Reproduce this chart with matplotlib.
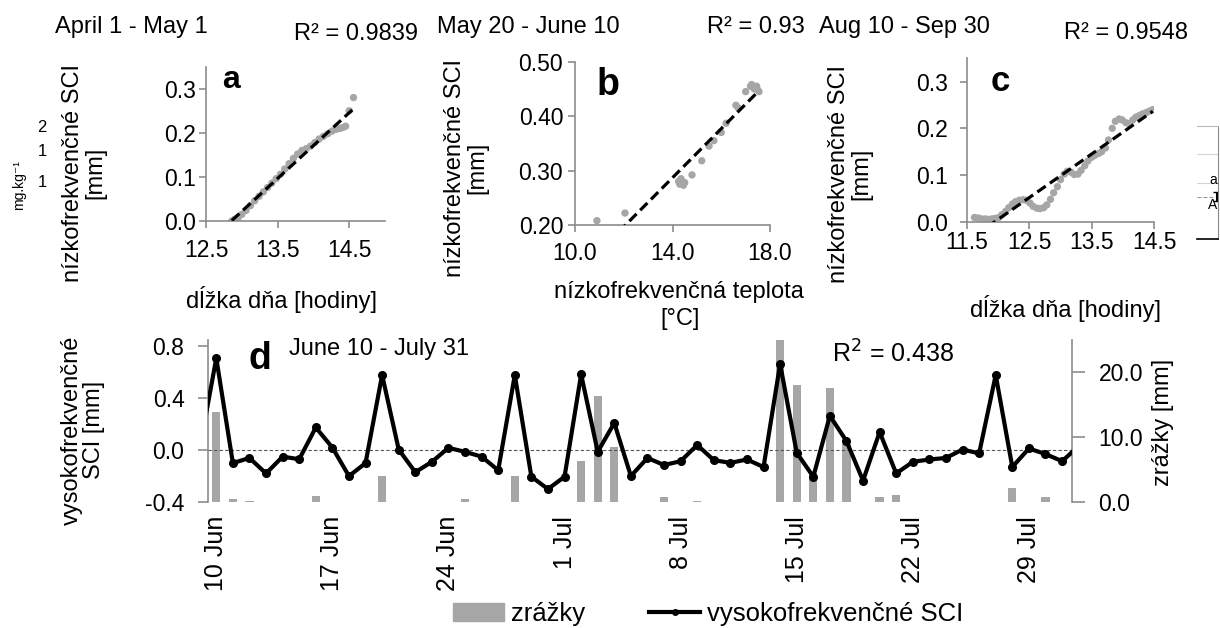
import matplotlib
matplotlib.use('Agg')  # no display

import numpy as np
import matplotlib.pyplot as plt
from matplotlib.lines import Line2D
from matplotlib.patches import Patch

plt.rcParams['font.family'] = ['Liberation Sans', 'DejaVu Sans']

# --- panel a: day length vs low-frequency SCI (April 1 - May 1)
day_len_a = [12.86, 12.90, 12.95, 13.00, 13.06, 13.12, 13.18, 13.24, 13.30, 13.36,
             13.42, 13.48, 13.54, 13.60, 13.66, 13.72, 13.78, 13.84, 13.90, 13.96,
             14.02, 14.08, 14.14, 14.20, 14.26, 14.32, 14.37, 14.41, 14.45, 14.50, 14.56]
sci_a = [0.000, 0.004, 0.008, 0.015, 0.024, 0.035, 0.046, 0.056, 0.066, 0.076,
         0.086, 0.096, 0.106, 0.118, 0.130, 0.142, 0.152, 0.160, 0.164, 0.170,
         0.178, 0.186, 0.192, 0.198, 0.204, 0.208, 0.210, 0.212, 0.215, 0.250, 0.280]

# --- panel b: low-frequency temperature vs SCI (May 20 - June 10)
temp_b = [10.9, 12.05, 14.25, 14.3, 14.35, 14.45, 14.5, 14.8, 15.2, 15.5, 15.7,
          16.0, 16.2, 16.6, 16.7, 17.0, 17.2, 17.25, 17.35, 17.45, 17.5, 17.55]
sci_b = [0.208, 0.222, 0.280, 0.275, 0.285, 0.273, 0.278, 0.292, 0.318, 0.345, 0.355,
         0.370, 0.387, 0.420, 0.415, 0.445, 0.455, 0.458, 0.450, 0.455, 0.448, 0.445]

# --- panel c: day length vs SCI (Aug 10 - Sep 30)
day_len_c = [11.62, 11.68, 11.73, 11.79, 11.84, 11.90, 11.95, 12.01, 12.06, 12.12,
             12.17, 12.23, 12.28, 12.34, 12.40, 12.45, 12.51, 12.56, 12.62, 12.67,
             12.73, 12.78, 12.84, 12.89, 12.95, 13.00, 13.06, 13.11, 13.17, 13.22,
             13.28, 13.33, 13.39, 13.44, 13.50, 13.55, 13.61, 13.66, 13.72, 13.77,
             13.83, 13.88, 13.94, 13.99, 14.05, 14.10, 14.16, 14.21, 14.27, 14.32,
             14.38, 14.43, 14.48]
sci_c = [0.009, 0.008, 0.006, 0.006, 0.005, 0.006, 0.007, 0.009, 0.015, 0.022,
         0.030, 0.038, 0.043, 0.046, 0.047, 0.046, 0.040, 0.033, 0.029, 0.028,
         0.030, 0.036, 0.048, 0.062, 0.075, 0.090, 0.102, 0.108, 0.106, 0.101,
         0.102, 0.110, 0.120, 0.130, 0.138, 0.142, 0.146, 0.150, 0.158, 0.175,
         0.200, 0.215, 0.220, 0.218, 0.212, 0.210, 0.218, 0.224, 0.228, 0.231,
         0.234, 0.237, 0.240]

# --- panel d: daily series, Jun 9 .. Aug 1 (day 0 = 10 Jun)
days_d = np.arange(-1, 53)
sci_d = [0.01,
         0.71, -0.10, -0.06, -0.18, -0.05, -0.07, 0.175, 0.02, -0.20, -0.10,
         0.58, 0.005, -0.17, -0.09, 0.018, -0.013, -0.05, -0.155, 0.58, -0.205,
         -0.30, -0.205, 0.585, -0.013, 0.21, -0.20, -0.06, -0.115, -0.085, 0.04,
         -0.077, -0.098, -0.072, -0.13, 0.665, -0.02, -0.205, 0.265, 0.07, -0.235,
         0.14, -0.18, -0.09, -0.072, -0.06, 0.005, -0.025, 0.58, -0.13, 0.013,
         -0.03, -0.085, 0.03]
rain_d = [0.0,
          13.9, 0.4, 0.15, 0.0, 0.0, 0.0, 0.9, 0.0, 0.0, 0.0,
          4.0, 0.0, 0.0, 0.0, 0.0, 0.4, 0.0, 0.0, 4.0, 0.0,
          0.0, 0.0, 6.3, 16.3, 8.5, 0.0, 0.0, 0.8, 0.0, 0.15,
          0.0, 0.0, 0.0, 0.0, 25.0, 18.1, 4.5, 17.6, 9.0, 0.0,
          0.7, 1.1, 0.0, 0.0, 0.0, 0.0, 0.0, 0.0, 2.1, 0.0,
          0.7, 0.0, 0.0]
tick_days = [0, 7, 14, 21, 28, 35, 42, 49]
tick_labels = ['10 Jun', '17 Jun', '24 Jun', '1 Jul', '8 Jul', '15 Jul', '22 Jul', '29 Jul']

W, H = 1220, 628
GRAY_AX = '#8c8c8c'
GRAY_PT = '#a6a6a6'
FS = 17


def box(l, t, r, b):
    return [l / W, 1 - b / H, (r - l) / W, (b - t) / H]


def ftext(x, y, s, **kw):
    kw.setdefault('fontsize', FS)
    return fig.text(x / W, 1 - y / H, s, **kw)


def style(ax, xpad, ypad):
    for s in ['top', 'right']:
        ax.spines[s].set_visible(False)
    for s in ['left', 'bottom']:
        ax.spines[s].set_color(GRAY_AX)
        ax.spines[s].set_linewidth(1.2)
    ax.tick_params(color=GRAY_AX, labelsize=16.5, length=5, width=1.2)
    ax.tick_params(axis='x', pad=xpad)
    ax.tick_params(axis='y', pad=ypad)


def scatter_fit(ax, x, y):
    x = np.asarray(x)
    y = np.asarray(y)
    ax.scatter(x, y, s=28, color=GRAY_PT, edgecolors='none', zorder=2)
    p = np.polyfit(x, y, 1)
    xs = np.array([x.min(), x.max()])
    ax.plot(xs, np.polyval(p, xs), color='black', lw=2.3, dashes=(3.2, 1.6), zorder=3)


fig = plt.figure(figsize=(12.2, 6.28), dpi=100)

# panel a
ax_a = fig.add_axes(box(206, 66.7, 385, 221))
scatter_fit(ax_a, day_len_a, sci_a)
ax_a.set_xlim(12.5, 15.0)
ax_a.set_ylim(0, 0.35)
ax_a.set_xticks([12.5, 13.5, 14.5])
ax_a.set_yticks([0.0, 0.1, 0.2, 0.3])
ax_a.set_yticklabels(['0.0', '0.1', '0.2', '0.3'])
style(ax_a, 8, 2.5)

# panel b
ax_b = fig.add_axes(box(575, 61.7, 770, 225))
scatter_fit(ax_b, temp_b, sci_b)
ax_b.set_xlim(10, 18)
ax_b.set_ylim(0.2, 0.5)
ax_b.set_xticks([10, 14, 18])
ax_b.set_xticklabels(['10.0', '14.0', '18.0'])
ax_b.set_yticks([0.2, 0.3, 0.4, 0.5])
ax_b.set_yticklabels(['0.20', '0.30', '0.40', '0.50'])
style(ax_b, 7, 3.5)

# panel c
ax_c = fig.add_axes(box(967, 58.3, 1154, 221.7))
scatter_fit(ax_c, day_len_c, sci_c)
ax_c.set_xlim(11.5, 14.5)
ax_c.set_ylim(0, 0.35)
ax_c.set_xticks([11.5, 12.5, 13.5, 14.5])
ax_c.set_yticks([0.0, 0.1, 0.2, 0.3])
ax_c.set_yticklabels(['0.0', '0.1', '0.2', '0.3'])
style(ax_c, 1.5, 9)

# panel d
ax_d = fig.add_axes(box(208, 340, 1072, 502))
ax_r = ax_d.twinx()
ax_r.bar(days_d, rain_d, width=0.5, color=GRAY_PT, zorder=1)
ax_r.set_ylim(0, 25)
ax_r.set_yticks([0, 10, 20])
ax_r.set_yticklabels(['0.0', '10.0', '20.0'])
ax_d.set_zorder(ax_r.get_zorder() + 1)
ax_d.patch.set_visible(False)
ax_d.axhline(0, color='#555555', lw=0.8, ls=(0, (3, 2)), zorder=1)
ax_d.plot(days_d, sci_d, color='black', lw=3, marker='o', markersize=5.5, zorder=3)
ax_d.set_xlim(-0.5, 51.6)
ax_d.set_ylim(-0.4, 0.85)
ax_d.set_yticks([-0.4, 0.0, 0.4, 0.8])
ax_d.set_yticklabels(['-0.4', '0.0', '0.4', '0.8'])
ax_d.set_xticks(tick_days)
ax_d.set_xticklabels(tick_labels, rotation=90)
for a in (ax_d, ax_r):
    for s in a.spines.values():
        s.set_visible(False)
ax_d.spines['left'].set_visible(True)
ax_d.spines['left'].set_color(GRAY_AX)
ax_d.spines['left'].set_linewidth(1.2)
ax_r.spines['right'].set_visible(True)
ax_r.spines['right'].set_color(GRAY_AX)
ax_r.spines['right'].set_linewidth(1.2)
ax_d.tick_params(axis='y', color=GRAY_AX, labelsize=16.5, length=7, width=1.2, pad=10)
ax_d.tick_params(axis='x', length=0, labelsize=18, pad=10)
ax_r.tick_params(axis='y', color=GRAY_AX, labelsize=16.5, length=9, width=1.2, pad=10)

# titles and R^2
ftext(55, 33, 'April 1 - May 1', va='baseline')
ftext(418, 40, 'R² = 0.9839', va='baseline', ha='right')
ftext(437, 33, 'May 20 - June 10', va='baseline')
ftext(805, 33, 'R² = 0.93', va='baseline', ha='right')
ftext(819, 33, 'Aug 10 - Sep 30', va='baseline')
ftext(1188, 39, 'R² = 0.9548', va='baseline', ha='right')
ftext(289, 355, 'June 10 - July 31', va='baseline')
ftext(832, 363, 'R$^2$ = 0.438', va='baseline', fontsize=18)

# panel letters
ftext(222, 88, 'a', fontweight='bold', fontsize=23, va='baseline')
ftext(597, 95, 'b', fontweight='bold', fontsize=27, va='baseline')
ftext(991, 91, 'c', fontweight='bold', fontsize=25, va='baseline')
ftext(248, 369, 'd', fontweight='bold', fontsize=27, va='baseline')

# axis labels
ylab = 'nízkofrekvenčné SCI\n[mm]'
for x, y in [(84, 173), (466, 168), (850, 174)]:
    ftext(x, y, ylab, rotation=90, ha='center', va='center',
          multialignment='center', linespacing=1.0)
ftext(282, 308, 'dĺžka dňa [hodiny]', ha='center', va='baseline')
ftext(679, 298, 'nízkofrekvenčná teplota', ha='center', va='baseline')
ftext(680, 325, '[°C]', ha='center', va='baseline')
ftext(1066, 317, 'dĺžka dňa [hodiny]', ha='center', va='baseline')
ftext(83, 430, 'vysokofrekvenčné\nSCI [mm]', rotation=90, ha='center', va='center',
      multialignment='center', linespacing=1.05)
ftext(1163, 422, 'zrážky [mm]', rotation=90, ha='center', va='center')

# legend
handles = [Patch(color=GRAY_PT),
           Line2D([], [], color='black', lw=3, marker='o', markersize=4)]
fig.legend(handles, ['zrážky', 'vysokofrekvenčné SCI'], loc='center',
           bbox_to_anchor=(708 / W, 1 - 614 / H), ncol=2, frameon=False,
           fontsize=18.5, handlelength=2.0, handletextpad=0.25, columnspacing=2.5)

# leftover fragments of a neighbouring figure
ftext(19, 185, 'mg.kg⁻¹', rotation=90, ha='center', va='center', fontsize=10)
for y, s in [(128, '2'), (152, '1'), (182, '1')]:
    ftext(42, y, s, ha='center', va='center', fontsize=12)

ax_e = fig.add_axes(box(1197, 126, 1218, 239))
ax_e.set_xlim(0, 1)
ax_e.set_ylim(0, 4)
ax_e.set_xticks([])
ax_e.set_yticks([])
ax_e.spines['left'].set_visible(False)
ax_e.spines['top'].set_color('#bbbbbb')
ax_e.spines['right'].set_color('#888888')
ax_e.spines['bottom'].set_color('black')
ax_e.spines['bottom'].set_linewidth(1.2)
for v in [2, 3]:
    ax_e.axhline(v, color='#d5d5d5', lw=0.8)
ax_e.plot([0, 0.8], [1.5, 1.5], color='#999999', lw=0.8, ls='--')
ax_e.errorbar([0.93], [1.5], yerr=[0.15], color='black', capsize=3, lw=1.5)
ax_e.text(0.75, 2.1, 'a', ha='center', va='center', fontsize=10)
ax_e.text(0.75, 1.2, 'A', ha='center', va='center', fontsize=10)

fig.savefig('out.png', dpi=100)
plt.close(fig)
